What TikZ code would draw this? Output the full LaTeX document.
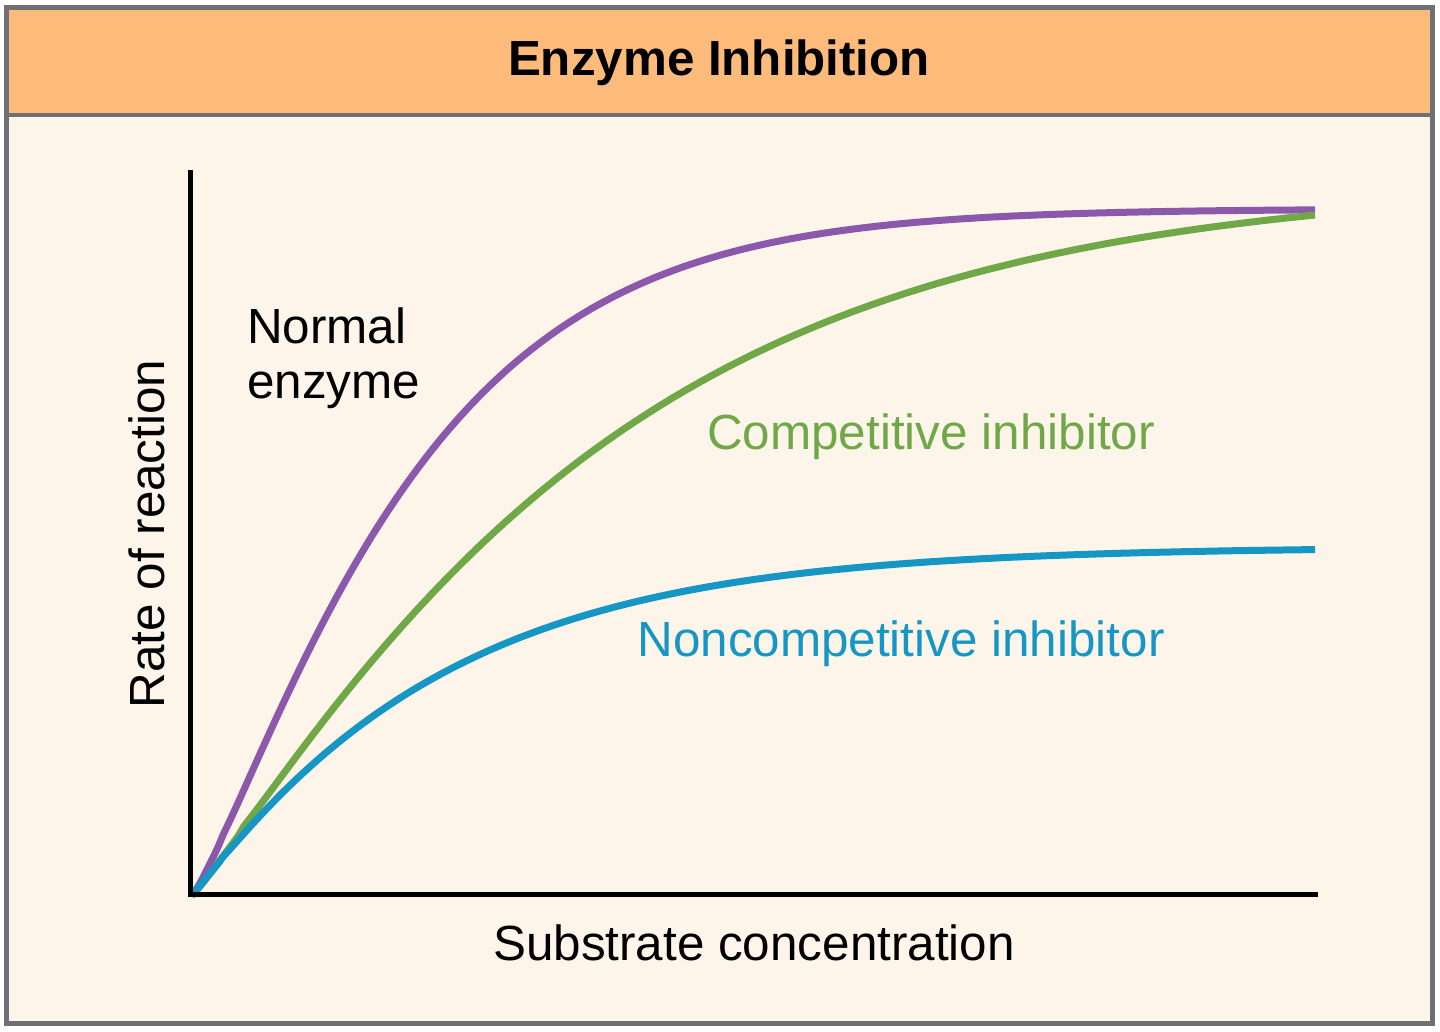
\documentclass[tikz,border=0pt]{standalone}
\usepackage{fontspec}
\setmainfont{Liberation Sans}
\definecolor{band}{RGB}{252,187,123}
\definecolor{paper}{RGB}{253,245,234}
\definecolor{framegray}{RGB}{112,112,116}
\definecolor{cpurple}{RGB}{140,88,172}
\definecolor{cgreen}{RGB}{112,168,72}
\definecolor{cblue}{RGB}{22,150,196}
\begin{document}
\begin{tikzpicture}[x=1pt,y=-1pt,
  curve/.style={line width=7pt},
  axisline/.style={line width=5pt, black, line join=miter},
  lbl/.style={font=\fontsize{49.4}{55}\selectfont, inner sep=0pt},
  titlefont/.style={font=\bfseries\fontsize{49.3}{59}\selectfont, inner sep=0pt}]
\useasboundingbox (0,0) rectangle (1440,1031);
\fill[white] (0,0) rectangle (1440,1031);
\fill[paper] (6,7) rectangle (1432,1023);
\fill[band] (6,7) rectangle (1432,115);
\draw[framegray, line width=4pt] (6,115) -- (1432,115);
\draw[framegray, line width=5pt] (6,7) rectangle (1432,1023);

\node[titlefont, anchor=base] (title) at (719,75) {Enzyme Inhibition};

% axes
\coordinate (ytop) at (190,170);
\coordinate (O) at (190,894);
\coordinate (xend) at (1318,894);
\coordinate (start) at (192,895);

% curves
\draw[curve, cpurple] (start) -- plot[domain=0.5:1123, samples=220]
  ({192+\x}, {895-686*(1-exp(-pow(\x/231,1.2)))});
\draw[curve, cgreen] (start) -- plot[domain=0.5:1123, samples=220]
  ({192+\x}, {895-712*(1-exp(-pow(\x/409,1.12)))});
\draw[curve, cblue] (start) -- plot[domain=0.5:1123, samples=220]
  ({192+\x}, {895-348*(1-exp(-pow(\x/247,1.05)))});

\draw[axisline] (ytop) -- (O) -- (xend);

% labels
\node[lbl, anchor=base west, align=left] (normal) at (247,398) {Normal\\enzyme};
\node[lbl, anchor=base, text=cgreen] (comp) at (931,449) {Competitive inhibitor};
\node[lbl, anchor=base, text=cblue] (noncomp) at (901,656) {Noncompetitive inhibitor};
\node[lbl, anchor=base] (xlab) at (754,960) {Substrate concentration};
\node[lbl, anchor=base, rotate=90] (ylab) at (164,534) {Rate of reaction};
\end{tikzpicture}
\end{document}
